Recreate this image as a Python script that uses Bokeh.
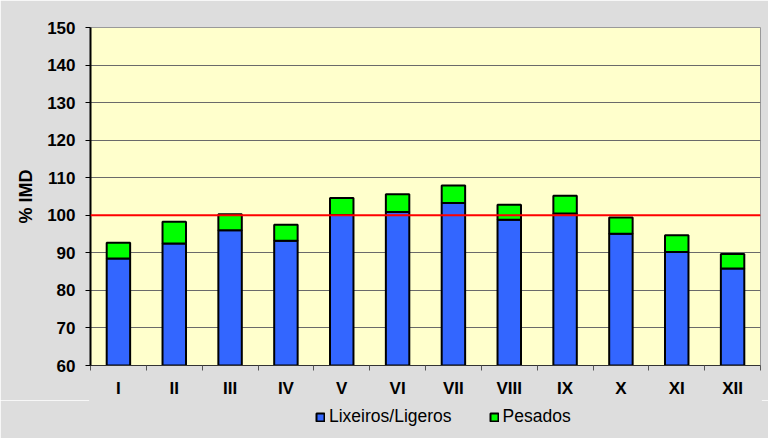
from bokeh.plotting import figure
from bokeh.models import (ColumnDataSource, Span, Legend, LegendItem, FixedTicker,
                          Range1d)
from bokeh.layouts import column
from bokeh.embed import file_html
from bokeh.resources import INLINE

months = ["I", "II", "III", "IV", "V", "VI", "VII", "VIII", "IX", "X", "XI", "XII"]
ligeros = [88.5, 92.5, 96.0, 93.2, 100.1, 100.9, 103.3, 98.8, 100.5, 95.1, 90.2, 85.8]
pesados = [4.2, 5.8, 4.3, 4.3, 4.5, 4.7, 4.6, 4.0, 4.7, 4.3, 4.5, 3.9]
y_ticks = [60, 70, 80, 90, 100, 110, 120, 130, 140, 150]
series_names = ["Lixeiros/Ligeros", "Pesados"]
series_colors = ["#3366ff", "#00ff00"]
reference = 100
y_base = 60

xs = [i + 0.5 for i in range(len(months))]
totals = [a + b for a, b in zip(ligeros, pesados)]
src = ColumnDataSource(dict(x=xs, base=[y_base] * len(months), lig=ligeros, tot=totals))

FONT = "Liberation Sans"
BG = "#dddddd"

p = figure(width=768, height=400, output_backend="svg", toolbar_location=None,
           x_range=Range1d(0, len(months)), y_range=Range1d(y_ticks[0], y_ticks[-1]),
           min_border_left=90, min_border_right=8, min_border_top=27, min_border_bottom=33)
p.border_fill_color = BG
p.background_fill_color = "#ffffcc"
p.outline_line_color = "#999999"
p.outline_line_width = 1

p.vbar(x="x", bottom="base", top="lig", width=0.42, source=src,
       fill_color=series_colors[0], line_color="black", line_width=2)
p.vbar(x="x", bottom="lig", top="tot", width=0.42, source=src,
       fill_color=series_colors[1], line_color="black", line_width=2)

p.add_layout(Span(location=reference, dimension="width", line_color="red", line_width=2))

# axes
p.xgrid.visible = False
p.ygrid.grid_line_color = "#6a6a6a"
p.ygrid.grid_line_width = 1
p.yaxis.ticker = FixedTicker(ticks=y_ticks)
p.yaxis.minor_tick_line_color = None
p.yaxis.major_tick_in = 0
p.yaxis.major_tick_out = 5
p.yaxis.axis_line_color = "black"
p.yaxis.axis_line_width = 2
p.yaxis.major_label_text_font = FONT
p.yaxis.major_label_text_font_style = "bold"
p.yaxis.major_label_text_font_size = "17px"
p.yaxis.major_label_text_color = "black"
p.yaxis.major_label_standoff = 10
p.yaxis.axis_label = "% IMD"
p.yaxis.axis_label_text_font = FONT
p.yaxis.axis_label_text_font_style = "bold"
p.yaxis.axis_label_text_font_size = "18px"
p.yaxis.axis_label_text_color = "black"
p.yaxis.axis_label_standoff = 8

p.xaxis.ticker = FixedTicker(ticks=xs, minor_ticks=list(range(len(months) + 1)))
p.xaxis.major_label_overrides = {x: m for x, m in zip(xs, months)}
p.xaxis.major_tick_line_color = None
p.xaxis.major_tick_out = 5
p.xaxis.minor_tick_in = 0
p.xaxis.minor_tick_out = 5
p.xaxis.minor_tick_line_color = "#555555"
p.xaxis.axis_line_color = "#333333"
p.xaxis.axis_line_width = 1
p.xaxis.major_label_text_font = FONT
p.xaxis.major_label_text_font_style = "bold"
p.xaxis.major_label_text_font_size = "17px"
p.xaxis.major_label_text_color = "black"
p.xaxis.major_label_standoff = 8

# legend strip below the chart: proxy renderers whose positions are undefined (NaN),
# so only their legend swatches are drawn
proxy = ColumnDataSource(dict(x=[float("nan")] * len(months),
                              base=[y_base] * len(months), lig=ligeros, tot=totals))
lg = figure(width=768, height=38, output_backend="svg", toolbar_location=None,
            x_range=Range1d(0, len(months)), y_range=Range1d(y_ticks[0], y_ticks[-1]),
            x_axis_type=None, y_axis_type=None,
            min_border_left=90, min_border_right=8, min_border_top=0, min_border_bottom=0)
lg.border_fill_color = BG
lg.background_fill_color = BG
lg.outline_line_color = BG
lg.outline_line_width = 3
lg.grid.visible = False
lr1 = lg.vbar(x="x", bottom="base", top="lig", width=0.42, source=proxy,
              fill_color=series_colors[0], line_color="black", line_width=2)
lr2 = lg.vbar(x="x", bottom="lig", top="tot", width=0.42, source=proxy,
              fill_color=series_colors[1], line_color="black", line_width=2)

legend = Legend(items=[LegendItem(label=series_names[0], renderers=[lr1]),
                       LegendItem(label=series_names[1], renderers=[lr2])],
                location=(225, 11), orientation="horizontal",
                glyph_width=10, glyph_height=10, label_standoff=4, spacing=37,
                padding=0, margin=0, border_line_color=None,
                background_fill_alpha=0,
                label_text_font=FONT, label_text_font_size="17.5px",
                label_text_color="black")
lg.add_layout(legend)

layout = column(p, lg, spacing=0)
open("out.html", "w").write(file_html(layout, INLINE))
